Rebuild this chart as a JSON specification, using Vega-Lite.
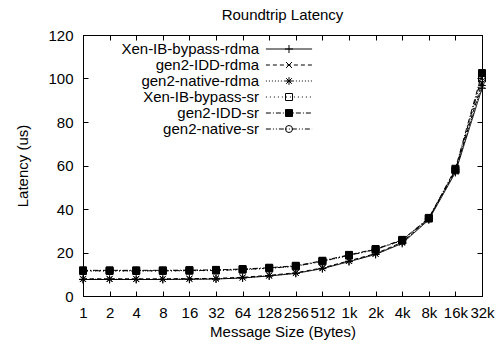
{
  "$schema": "https://vega.github.io/schema/vega-lite/v6.json",
  "autosize": {"type": "none"},
  "width": 399,
  "height": 261,
  "padding": {"left": 83, "top": 35, "right": 16, "bottom": 49},
  "background": "white",
  "title": {
    "text": "Roundtrip Latency",
    "font": "Liberation Sans",
    "fontSize": 15,
    "fontWeight": "normal",
    "color": "black",
    "offset": 5
  },
  "config": {
    "view": {"stroke": "black", "strokeWidth": 1},
    "axis": {
      "grid": false,
      "domainColor": "black",
      "domainWidth": 1,
      "tickColor": "black",
      "tickWidth": 1,
      "labelFont": "Liberation Sans",
      "labelFontSize": 15,
      "labelColor": "black",
      "titleFont": "Liberation Sans",
      "titleFontSize": 15,
      "titleFontWeight": "normal",
      "titleColor": "black"
    },
    "legend": {
      "orient": "none",
      "padding": 0,
      "columns": 1,
      "labelFont": "Liberation Sans",
      "labelFontSize": 15,
      "labelColor": "black",
      "labelLimit": 300,
      "symbolStrokeWidth": 1
    }
  },
  "data": {
    "values": [
      {"series": "Xen-IB-bypass-rdma", "bytes": 1, "latency": 7.6},
      {"series": "Xen-IB-bypass-rdma", "bytes": 2, "latency": 7.6},
      {"series": "Xen-IB-bypass-rdma", "bytes": 4, "latency": 7.6},
      {"series": "Xen-IB-bypass-rdma", "bytes": 8, "latency": 7.6},
      {"series": "Xen-IB-bypass-rdma", "bytes": 16, "latency": 7.7},
      {"series": "Xen-IB-bypass-rdma", "bytes": 32, "latency": 7.8},
      {"series": "Xen-IB-bypass-rdma", "bytes": 64, "latency": 8.3},
      {"series": "Xen-IB-bypass-rdma", "bytes": 128, "latency": 9.2},
      {"series": "Xen-IB-bypass-rdma", "bytes": 256, "latency": 10.4},
      {"series": "Xen-IB-bypass-rdma", "bytes": 512, "latency": 12.6},
      {"series": "Xen-IB-bypass-rdma", "bytes": 1024, "latency": 15.8},
      {"series": "Xen-IB-bypass-rdma", "bytes": 2048, "latency": 19.1},
      {"series": "Xen-IB-bypass-rdma", "bytes": 4096, "latency": 24.2},
      {"series": "Xen-IB-bypass-rdma", "bytes": 8192, "latency": 35.0},
      {"series": "Xen-IB-bypass-rdma", "bytes": 16384, "latency": 56.8},
      {"series": "Xen-IB-bypass-rdma", "bytes": 32768, "latency": 95.5},

      {"series": "gen2-IDD-rdma", "bytes": 1, "latency": 7.9},
      {"series": "gen2-IDD-rdma", "bytes": 2, "latency": 7.9},
      {"series": "gen2-IDD-rdma", "bytes": 4, "latency": 7.9},
      {"series": "gen2-IDD-rdma", "bytes": 8, "latency": 7.9},
      {"series": "gen2-IDD-rdma", "bytes": 16, "latency": 8.0},
      {"series": "gen2-IDD-rdma", "bytes": 32, "latency": 8.1},
      {"series": "gen2-IDD-rdma", "bytes": 64, "latency": 8.6},
      {"series": "gen2-IDD-rdma", "bytes": 128, "latency": 9.5},
      {"series": "gen2-IDD-rdma", "bytes": 256, "latency": 10.7},
      {"series": "gen2-IDD-rdma", "bytes": 512, "latency": 12.9},
      {"series": "gen2-IDD-rdma", "bytes": 1024, "latency": 16.2},
      {"series": "gen2-IDD-rdma", "bytes": 2048, "latency": 19.5},
      {"series": "gen2-IDD-rdma", "bytes": 4096, "latency": 24.7},
      {"series": "gen2-IDD-rdma", "bytes": 8192, "latency": 35.6},
      {"series": "gen2-IDD-rdma", "bytes": 16384, "latency": 57.6},
      {"series": "gen2-IDD-rdma", "bytes": 32768, "latency": 98.0},

      {"series": "gen2-native-rdma", "bytes": 1, "latency": 7.7},
      {"series": "gen2-native-rdma", "bytes": 2, "latency": 7.7},
      {"series": "gen2-native-rdma", "bytes": 4, "latency": 7.7},
      {"series": "gen2-native-rdma", "bytes": 8, "latency": 7.7},
      {"series": "gen2-native-rdma", "bytes": 16, "latency": 7.8},
      {"series": "gen2-native-rdma", "bytes": 32, "latency": 7.9},
      {"series": "gen2-native-rdma", "bytes": 64, "latency": 8.4},
      {"series": "gen2-native-rdma", "bytes": 128, "latency": 9.3},
      {"series": "gen2-native-rdma", "bytes": 256, "latency": 10.5},
      {"series": "gen2-native-rdma", "bytes": 512, "latency": 12.7},
      {"series": "gen2-native-rdma", "bytes": 1024, "latency": 16.0},
      {"series": "gen2-native-rdma", "bytes": 2048, "latency": 19.3},
      {"series": "gen2-native-rdma", "bytes": 4096, "latency": 24.5},
      {"series": "gen2-native-rdma", "bytes": 8192, "latency": 35.4},
      {"series": "gen2-native-rdma", "bytes": 16384, "latency": 57.2},
      {"series": "gen2-native-rdma", "bytes": 32768, "latency": 96.8},

      {"series": "Xen-IB-bypass-sr", "bytes": 1, "latency": 11.5},
      {"series": "Xen-IB-bypass-sr", "bytes": 2, "latency": 11.5},
      {"series": "Xen-IB-bypass-sr", "bytes": 4, "latency": 11.5},
      {"series": "Xen-IB-bypass-sr", "bytes": 8, "latency": 11.5},
      {"series": "Xen-IB-bypass-sr", "bytes": 16, "latency": 11.6},
      {"series": "Xen-IB-bypass-sr", "bytes": 32, "latency": 11.7},
      {"series": "Xen-IB-bypass-sr", "bytes": 64, "latency": 12.1},
      {"series": "Xen-IB-bypass-sr", "bytes": 128, "latency": 12.7},
      {"series": "Xen-IB-bypass-sr", "bytes": 256, "latency": 13.6},
      {"series": "Xen-IB-bypass-sr", "bytes": 512, "latency": 15.9},
      {"series": "Xen-IB-bypass-sr", "bytes": 1024, "latency": 18.6},
      {"series": "Xen-IB-bypass-sr", "bytes": 2048, "latency": 21.3},
      {"series": "Xen-IB-bypass-sr", "bytes": 4096, "latency": 25.5},
      {"series": "Xen-IB-bypass-sr", "bytes": 8192, "latency": 35.6},
      {"series": "Xen-IB-bypass-sr", "bytes": 16384, "latency": 57.8},
      {"series": "Xen-IB-bypass-sr", "bytes": 32768, "latency": 100.0},

      {"series": "gen2-IDD-sr", "bytes": 1, "latency": 11.8},
      {"series": "gen2-IDD-sr", "bytes": 2, "latency": 11.8},
      {"series": "gen2-IDD-sr", "bytes": 4, "latency": 11.8},
      {"series": "gen2-IDD-sr", "bytes": 8, "latency": 11.8},
      {"series": "gen2-IDD-sr", "bytes": 16, "latency": 11.9},
      {"series": "gen2-IDD-sr", "bytes": 32, "latency": 12.0},
      {"series": "gen2-IDD-sr", "bytes": 64, "latency": 12.4},
      {"series": "gen2-IDD-sr", "bytes": 128, "latency": 13.0},
      {"series": "gen2-IDD-sr", "bytes": 256, "latency": 13.9},
      {"series": "gen2-IDD-sr", "bytes": 512, "latency": 16.2},
      {"series": "gen2-IDD-sr", "bytes": 1024, "latency": 18.9},
      {"series": "gen2-IDD-sr", "bytes": 2048, "latency": 21.6},
      {"series": "gen2-IDD-sr", "bytes": 4096, "latency": 25.8},
      {"series": "gen2-IDD-sr", "bytes": 8192, "latency": 35.9},
      {"series": "gen2-IDD-sr", "bytes": 16384, "latency": 58.5},
      {"series": "gen2-IDD-sr", "bytes": 32768, "latency": 102.5},

      {"series": "gen2-native-sr", "bytes": 1, "latency": 11.6},
      {"series": "gen2-native-sr", "bytes": 2, "latency": 11.6},
      {"series": "gen2-native-sr", "bytes": 4, "latency": 11.6},
      {"series": "gen2-native-sr", "bytes": 8, "latency": 11.6},
      {"series": "gen2-native-sr", "bytes": 16, "latency": 11.7},
      {"series": "gen2-native-sr", "bytes": 32, "latency": 11.8},
      {"series": "gen2-native-sr", "bytes": 64, "latency": 12.2},
      {"series": "gen2-native-sr", "bytes": 128, "latency": 12.8},
      {"series": "gen2-native-sr", "bytes": 256, "latency": 13.7},
      {"series": "gen2-native-sr", "bytes": 512, "latency": 16.0},
      {"series": "gen2-native-sr", "bytes": 1024, "latency": 18.7},
      {"series": "gen2-native-sr", "bytes": 2048, "latency": 21.4},
      {"series": "gen2-native-sr", "bytes": 4096, "latency": 25.6},
      {"series": "gen2-native-sr", "bytes": 8192, "latency": 35.7},
      {"series": "gen2-native-sr", "bytes": 16384, "latency": 58.0},
      {"series": "gen2-native-sr", "bytes": 32768, "latency": 101.0}
    ]
  },
  "resolve": {"axis": {"x": "independent", "y": "independent"}},
  "layer": [
    {
      "mark": {"type": "line", "color": "black", "strokeWidth": 1},
      "encoding": {
        "x": {
          "field": "bytes",
          "type": "quantitative",
          "scale": {"type": "log", "base": 2, "domain": [1, 32768], "nice": false},
          "axis": {
            "orient": "bottom",
            "values": [1, 2, 4, 8, 16, 32, 64, 128, 256, 512, 1024, 2048, 4096, 8192, 16384, 32768],
            "labelExpr": "datum.value >= 1024 ? (round(datum.value / 1024) + 'k') : ('' + round(datum.value))",
            "tickSize": -5,
            "labelPadding": 14,
            "labelOverlap": false,
            "labelFlush": false,
            "labelBound": false,
            "title": "Message Size (Bytes)",
            "titleX": 199.5,
            "titleY": 35,
            "titleAlign": "center",
            "titleBaseline": "middle"
          }
        },
        "y": {
          "field": "latency",
          "type": "quantitative",
          "scale": {"domain": [0, 120], "nice": false},
          "axis": {
            "orient": "left",
            "values": [0, 20, 40, 60, 80, 100, 120],
            "tickSize": -5,
            "labelPadding": 15,
            "labelOverlap": false,
            "labelFlush": false,
            "title": "Latency (us)",
            "titleX": -61,
            "titleY": 130.5,
            "titleAngle": -90,
            "titleAlign": "center",
            "titleBaseline": "middle"
          }
        },
        "detail": {"field": "series"},
        "strokeDash": {
          "field": "series",
          "type": "nominal",
          "sort": ["Xen-IB-bypass-rdma", "gen2-IDD-rdma", "gen2-native-rdma", "Xen-IB-bypass-sr", "gen2-IDD-sr", "gen2-native-sr"],
          "scale": {"range": [[1, 0], [4, 3], [1, 2], [1, 3], [5, 2, 1, 2], [5, 2, 1, 2, 1, 2]]},
          "legend": {
            "orient": "none",
            "legendX": 198.5,
            "legendY": 6.5,
            "title": null,
            "rowPadding": -2,
            "symbolType": "M-6.6,0H6.6",
            "symbolSize": 49,
            "symbolOffset": 0,
            "labelAlign": "right",
            "labelBaseline": "middle",
            "labelOffset": -37.5
          }
        }
      }
    },
    {
      "mark": {"type": "point", "filled": false, "stroke": "black", "strokeWidth": 1, "size": 49, "opacity": 1},
      "encoding": {
        "x": {
          "field": "bytes",
          "type": "quantitative",
          "axis": {
            "orient": "top",
            "values": [1, 2, 4, 8, 16, 32, 64, 128, 256, 512, 1024, 2048, 4096, 8192, 16384, 32768],
            "tickSize": -5,
            "labels": false,
            "title": null
          }
        },
        "y": {
          "field": "latency",
          "type": "quantitative",
          "axis": {
            "orient": "right",
            "values": [0, 20, 40, 60, 80, 100, 120],
            "tickSize": -5,
            "labels": false,
            "title": null
          }
        },
        "shape": {
          "field": "series",
          "type": "nominal",
          "scale": {
            "domain": ["Xen-IB-bypass-rdma", "gen2-IDD-rdma", "gen2-native-rdma", "Xen-IB-bypass-sr", "gen2-IDD-sr", "gen2-native-sr"],
            "range": ["M-1.15,0H1.15M0,-1.15V1.15", "M-0.85,-0.85L0.85,0.85M-0.85,0.85L0.85,-0.85", "M-1.1,0H1.1M0,-1.1V1.1M-0.8,-0.8L0.8,0.8M-0.8,0.8L0.8,-0.8", "square", "square", "circle"]
          },
          "legend": {
            "orient": "none",
            "legendX": 198.5,
            "legendY": 6.5,
            "title": null,
            "rowPadding": -2,
            "symbolSize": 49,
            "symbolOffset": 0,
            "labelBaseline": "middle",
            "labelExpr": "''"
          }
        },
        "fill": {
          "field": "series",
          "type": "nominal",
          "scale": {
            "domain": ["Xen-IB-bypass-rdma", "gen2-IDD-rdma", "gen2-native-rdma", "Xen-IB-bypass-sr", "gen2-IDD-sr", "gen2-native-sr"],
            "range": ["transparent", "transparent", "transparent", "transparent", "black", "transparent"]
          },
          "legend": {
            "orient": "none",
            "legendX": 198.5,
            "legendY": 6.5,
            "title": null,
            "rowPadding": -2,
            "symbolSize": 49,
            "symbolOffset": 0,
            "labelBaseline": "middle",
            "labelExpr": "''"
          }
        }
      }
    }
  ]
}
